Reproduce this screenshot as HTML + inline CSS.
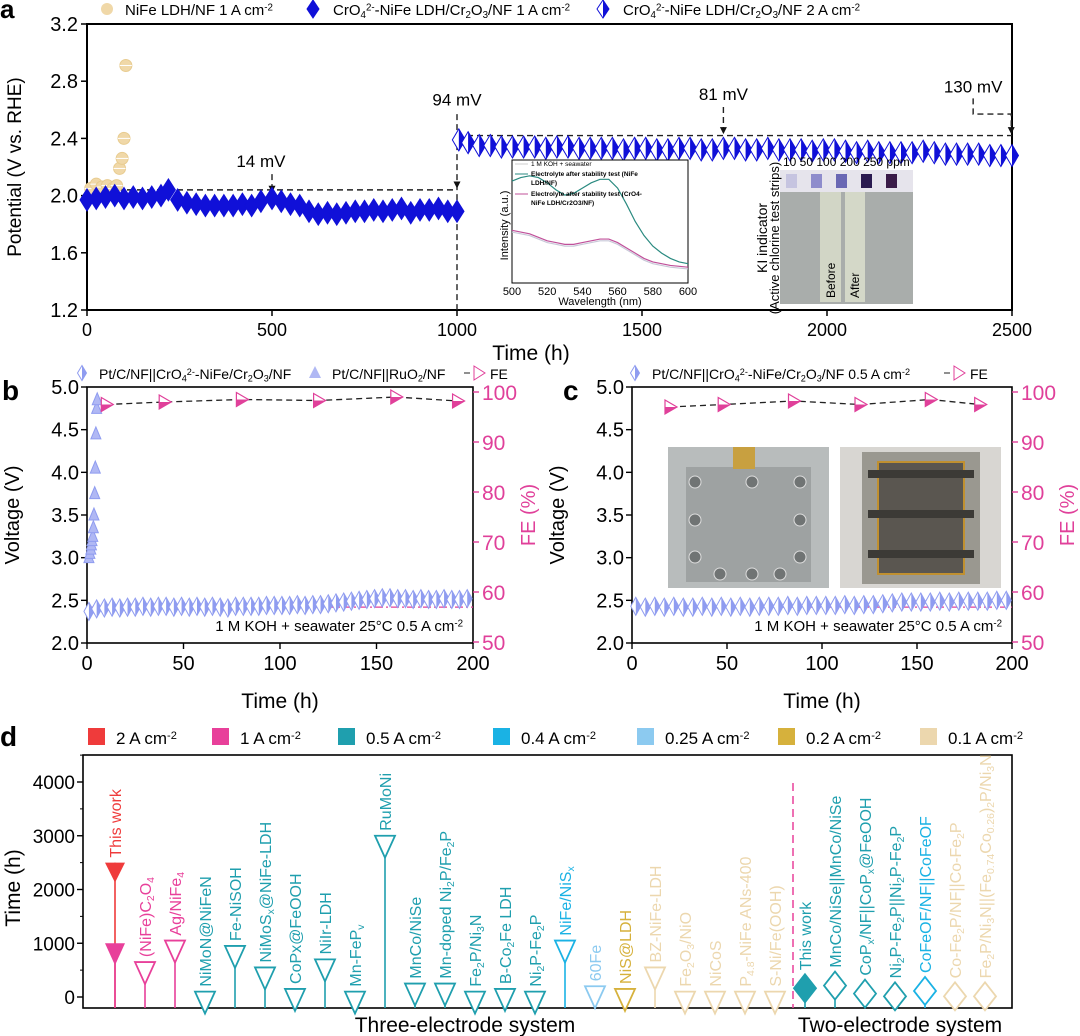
<!DOCTYPE html>
<html><head><meta charset="utf-8">
<style>
html,body{margin:0;padding:0;background:#fff;}
svg{display:block;font-family:"Liberation Sans Narrow","Liberation Sans",sans-serif;}
</style></head>
<body>
<svg id="fig" width="1080" height="1036" viewBox="0 0 1080 1036" xmlns="http://www.w3.org/2000/svg"></svg>
<script>
// ---------- Panel a data ----------
const aNiFeT=[10,25,40,55,70,80,88,95,100,105];
const aNiFeV=[2.05,2.08,2.06,2.07,2.05,2.07,2.19,2.26,2.40,2.91];
const a1T=[0,25,50,75,100,125,150,175,200,220,245,270,295,320,345,370,395,420,445,470,500,525,550,575,600,625,650,675,700,725,750,775,800,825,850,875,900,925,950,975,1000];
const a1V=[1.97,1.98,1.99,2.00,1.98,1.99,1.98,1.99,2.00,2.04,1.97,1.95,1.94,1.93,1.93,1.93,1.93,1.94,1.93,1.96,1.98,1.96,1.94,1.93,1.89,1.87,1.88,1.87,1.88,1.89,1.89,1.90,1.89,1.90,1.91,1.88,1.90,1.90,1.91,1.89,1.89];
const a2T=[1005,1030,1060,1090,1120,1150,1180,1210,1240,1270,1300,1330,1360,1390,1420,1450,1480,1510,1540,1570,1600,1630,1660,1690,1720,1750,1780,1810,1840,1870,1900,1930,1960,1990,2020,2050,2080,2110,2140,2170,2200,2230,2260,2290,2320,2350,2380,2410,2440,2470,2500];
const a2V=[2.39,2.37,2.35,2.35,2.34,2.34,2.34,2.34,2.33,2.34,2.34,2.33,2.33,2.33,2.33,2.32,2.33,2.33,2.32,2.32,2.33,2.33,2.32,2.32,2.33,2.33,2.32,2.32,2.33,2.32,2.32,2.32,2.31,2.32,2.32,2.31,2.30,2.31,2.30,2.30,2.30,2.30,2.31,2.30,2.29,2.29,2.29,2.29,2.28,2.28,2.28];
const aXTicks=[0,500,1000,1500,2000,2500];
const aYTicks=[1.2,1.6,2.0,2.4,2.8,3.2];
// inset spectrum
const specX=[500,505,510,515,520,525,530,535,540,545,550,555,560,565,570,575,580,585,590,595,600];
const specNiFe=[0.78,0.80,0.81,0.80,0.77,0.73,0.70,0.71,0.74,0.77,0.79,0.79,0.74,0.65,0.55,0.47,0.41,0.37,0.34,0.32,0.31];
const specCr=[0.50,0.49,0.48,0.46,0.44,0.43,0.42,0.42,0.43,0.44,0.45,0.45,0.43,0.40,0.37,0.34,0.32,0.31,0.30,0.295,0.29];
const specKOH=[0.49,0.48,0.47,0.45,0.43,0.42,0.41,0.41,0.42,0.43,0.44,0.44,0.42,0.39,0.36,0.33,0.31,0.30,0.29,0.285,0.28];
// ---------- Panel b data ----------
const bDiaT=[1,5,9,13,17,21,25,29,33,37,41,45,49,53,57,61,65,69,73,77,81,85,89,93,97,101,105,109,113,117,121,125,129,133,137,141,145,149,153,157,161,165,169,173,177,181,185,189,193,197];
const bDiaV=[2.37,2.40,2.41,2.42,2.41,2.42,2.42,2.43,2.42,2.43,2.43,2.42,2.43,2.42,2.43,2.42,2.43,2.42,2.41,2.43,2.43,2.43,2.43,2.44,2.44,2.44,2.44,2.45,2.44,2.45,2.45,2.46,2.47,2.48,2.49,2.50,2.51,2.52,2.53,2.53,2.52,2.52,2.51,2.52,2.51,2.51,2.52,2.51,2.51,2.52];
const bRuT=[1,1.5,2,2.3,2.6,3,3.3,3.6,4,4.3,4.6,5,5.3];
const bRuV=[3.00,3.05,3.10,3.15,3.20,3.25,3.35,3.50,3.75,4.05,4.45,4.75,4.85];
const bFeT=[10,40,80,120,160,192];
const bFeV=[97.5,98,98.5,98.3,99,98.2];
const bXTicks=[0,50,100,150,200];
const bYTicks=[2.0,2.5,3.0,3.5,4.0,4.5,5.0];
const feTicks=[50,60,70,80,90,100];
// ---------- Panel c data ----------
const cDiaT=[2,7,12,17,22,27,32,37,42,47,52,57,62,67,72,77,82,87,92,97,102,107,112,117,122,127,132,137,142,147,152,157,162,167,172,177,182,187,192,197];
const cDiaV=[2.43,2.42,2.43,2.42,2.43,2.42,2.42,2.43,2.42,2.43,2.42,2.43,2.42,2.43,2.43,2.43,2.44,2.43,2.44,2.44,2.44,2.44,2.45,2.44,2.45,2.45,2.46,2.47,2.48,2.48,2.48,2.48,2.49,2.48,2.49,2.49,2.49,2.49,2.50,2.50];
const cFeT=[20,48,85,120,157,183];
const cFeV=[97,97.5,98.2,97.5,98.5,97.5];
// ---------- Panel d data ----------
const dLabels=["This work","(NiFe)C_2O_4","Ag/NiFe_4","NiMoN@NiFeN","Fe-NiSOH","NiMoS_x@NiFe-LDH","CoPx@FeOOH","NiIr-LDH","Mn-FeP_v","RuMoNi","MnCo/NiSe","Mn-doped Ni_2P/Fe_2P","Fe_2P/Ni_3N","B-Co_2Fe LDH","Ni_2P-Fe_2P","NiFe/NiS_x","60Fe","NiS@LDH","BZ-NiFe-LDH","Fe_2O_3/NiO","NiCoS","P_{4.8}-NiFe ANs-400","S-Ni/Fe(OOH)","This work","MnCo/NiSe||MnCo/NiSe","CoP_x/NF||CoP_x@FeOOH","Ni_2P-Fe_2P||Ni_2P-Fe_2P","CoFeOF/NF||CoFeOF","Co-Fe_2P/NF||Co-Fe_2P","Fe_2P/Ni_3N||(Fe_{0.74}Co_{0.26})_2P/Ni_3N"];
const dHours=[2500,650,1050,100,950,550,150,700,100,3000,250,250,100,150,100,1050,200,150,550,100,100,100,100,200,250,100,50,150,50,50];
const dCurrent=[2,1,1,0.5,0.5,0.5,0.5,0.5,0.5,0.5,0.5,0.5,0.5,0.5,0.5,0.4,0.25,0.2,0.1,0.1,0.1,0.1,0.1,0.5,0.5,0.5,0.5,0.4,0.1,0.1];
const dYTicks=[0,1000,2000,3000,4000];
const legCurrents=[2,1,0.5,0.4,0.25,0.2,0.1];
const legLabels=["2 A cm","1 A cm","0.5 A cm","0.4 A cm","0.25 A cm","0.2 A cm","0.1 A cm"];

const NS="http://www.w3.org/2000/svg";
const svg=document.getElementById('fig');
function mk(tag,attrs,parent){const e=document.createElementNS(NS,tag);for(const k in attrs)e.setAttribute(k,attrs[k]);(parent||svg).appendChild(e);return e;}
function txt(str,attrs,parent){const t=mk('text',attrs,parent);t.textContent=str;return t;}
function rich(str,attrs,parent){ // _x or _{..} subscript, ^x superscript
  const t=mk('text',attrs,parent);
  const parts=str.split(/([_^](?:\{[^}]*\}|.))/);
  let shift=0;
  parts.forEach(p=>{ if(!p)return;
    if(p[0]==='_'||p[0]==='^'){const s=p.slice(1).replace(/[{}]/g,'');const dy=p[0]==='_'?0.3:-0.45;
      const ts=mk('tspan',{'font-size':'0.65em',dy:(dy-shift)+'em'},t);ts.textContent=s;shift=dy;}
    else {const ts=mk('tspan',{dy:(-shift*0.65)+'em'},t);ts.textContent=p;shift=0;}
  });
  return t;}
const BLUE='#1010d8', PINK='#e0409a', LBLUE='#8f9cf0';
function dia(cx,cy,w,h,color,half,parent){
  const g=mk('g',{},parent);
  mk('polygon',{points:`${cx},${cy-h/2} ${cx+w/2},${cy} ${cx},${cy+h/2} ${cx-w/2},${cy}`,fill:half?'#fff':color,stroke:color,'stroke-width':1},g);
  if(half)mk('polygon',{points:`${cx},${cy-h/2} ${cx+w/2},${cy} ${cx},${cy+h/2}`,fill:color},g);
  return g;}

// ================= PANEL A =================
const A={x0:87,x1:1012,y0:24,y1:310};
const ax=t=>A.x0+t/2500*(A.x1-A.x0);
const ay=v=>A.y0+(3.2-v)/2*(A.y1-A.y0);
const gA=mk('g',{});


txt('a',{x:0,y:18,'font-size':26,'font-weight':'bold','font-family':'Liberation Sans'},gA);
mk('rect',{x:A.x0,y:A.y0,width:A.x1-A.x0,height:A.y1-A.y0,fill:'none',stroke:'#000','stroke-width':2},gA);
aXTicks.forEach(t=>{mk('line',{x1:ax(t),x2:ax(t),y1:A.y1,y2:A.y1+6,stroke:'#000','stroke-width':1.5},gA);
  const l=txt(String(t),{x:ax(t),y:A.y1+26,'text-anchor':'middle','font-size':18},gA);
  
  });
aYTicks.forEach(v=>{mk('line',{x1:A.x0-6,x2:A.x0,y1:ay(v),y2:ay(v),stroke:'#000','stroke-width':1.5},gA);
  const l=txt(v.toFixed(1),{x:A.x0-9,y:ay(v)+7,'text-anchor':'end','font-size':20},gA);
  
  });
const aXT=txt('Time (h)',{x:531,y:360,'text-anchor':'middle','font-size':21},gA);


const aYT=txt('Potential (V vs. RHE)',{x:0,y:0,transform:`translate(21,${(A.y0+A.y1)/2}) rotate(-90)`,'text-anchor':'middle','font-size':19,'font-family':'Liberation Sans'},gA);


// dashed guide lines
const dsh={stroke:'#222','stroke-width':1.4,'stroke-dasharray':'6,4',fill:'none'};
mk('line',Object.assign({x1:ax(0),x2:ax(1000),y1:ay(2.04),y2:ay(2.04)},dsh),gA);
mk('line',Object.assign({x1:ax(1000),x2:ax(1000),y1:ay(2.57),y2:A.y1},dsh),gA);
mk('line',Object.assign({x1:ax(1000),x2:ax(2500),y1:ay(2.42),y2:ay(2.42)},dsh),gA);
mk('line',Object.assign({x1:ax(500),x2:ax(500),y1:ay(2.15),y2:ay(2.02)},dsh),gA);
mk('line',Object.assign({x1:ax(1720),x2:ax(1720),y1:ay(2.62),y2:ay(2.44)},dsh),gA);
mk('polyline',Object.assign({points:`${ax(2395)},${ay(2.68)} ${ax(2395)},${ay(2.57)} ${ax(2498)},${ay(2.57)} ${ax(2498)},${ay(2.44)}`},dsh),gA);
[[500,2.02],[1000,2.05],[1720,2.43],[2498,2.43]].forEach(p=>{const x=ax(p[0]),y=ay(p[1]);mk('polygon',{points:`${x-3.5},${y-7} ${x+3.5},${y-7} ${x},${y}`,fill:'#111'},gA);});
[['14 mV',470,2.2],['94 mV',1000,2.63],['81 mV',1720,2.67],['130 mV',2395,2.72]].forEach(a=>{const l=txt(a[0],{x:ax(a[1]),y:ay(a[2]),'text-anchor':'middle','font-size':17},gA);
  
  });
// series
aNiFeT.forEach((t,i)=>{const g=mk('g',{},gA);
  
  
  mk('circle',{cx:ax(t),cy:ay(aNiFeV[i]),r:6,fill:'#f0d8a8',stroke:'#e8cc90'},g);
  mk('line',{x1:ax(t)-6,x2:ax(t)+6,y1:ay(aNiFeV[i]),y2:ay(aNiFeV[i]),stroke:'#fff','stroke-width':1},g);});
a1T.forEach((t,i)=>{const g=dia(ax(t),ay(a1V[i]),14,22,BLUE,false,gA);
  
  });
a2T.forEach((t,i)=>{const g=dia(ax(t),ay(a2V[i]),13,22,BLUE,true,gA);
  
  });
// legend a
const legA=mk('g',{},gA);


mk('circle',{cx:107,cy:9,r:6,fill:'#f0d8a8'},legA);
rich('NiFe LDH/NF  1 A cm^{-2}',{x:125,y:15,'font-size':15},legA);
dia(313,9,12,18,BLUE,false,legA);
rich('CrO_4^{2-}-NiFe LDH/Cr_2O_3/NF 1 A cm^{-2}',{x:333,y:15,'font-size':15},legA);
dia(603,9,12,18,BLUE,true,legA);
rich('CrO_4^{2-}-NiFe LDH/Cr_2O_3/NF 2 A cm^{-2}',{x:623,y:15,'font-size':15},legA);
// inset spectrum
const I={x0:512,x1:688,y0:160,y1:283};
const ix=w=>I.x0+(w-500)/100*(I.x1-I.x0);
const iy=v=>I.y1-(v-0.2)/0.7*(I.y1-I.y0);
const gI=mk('g',{},gA);


mk('rect',{x:I.x0,y:I.y0,width:I.x1-I.x0,height:I.y1-I.y0,fill:'#fff',stroke:'#000','stroke-width':1},gI);
[500,520,540,560,580,600].forEach(w=>{txt(String(w),{x:ix(w),y:I.y1+12,'text-anchor':'middle','font-size':11,'font-family':'Liberation Sans'},gI);});
txt('Wavelength (nm)',{x:(I.x0+I.x1)/2,y:I.y1+22,'text-anchor':'middle','font-size':11,'font-family':'Liberation Sans'},gI);
txt('Intensity (a.u.)',{x:0,y:0,transform:`translate(508,${(I.y0+I.y1)/2+4}) rotate(-90)`,'text-anchor':'middle','font-size':11,'font-family':'Liberation Sans'},gI);
function spec(arr,col,nm){const p=mk('polyline',{points:specX.map((w,i)=>`${ix(w)},${iy(arr[i])}`).join(' '),fill:'none',stroke:col,'stroke-width':1.2},gI);
  
  }
spec(specKOH,'#c8c8d8','spectrum-koh-seawater');spec(specNiFe,'#2a8a80','spectrum-nife');spec(specCr,'#c0509a','spectrum-cro4');
mk('line',{x1:515,x2:528,y1:164,y2:164,stroke:'#ccc'},gI);txt('1 M KOH + seawater',{x:531,y:166,'font-size':6.5,'font-family':'Liberation Sans'},gI);
mk('line',{x1:515,x2:528,y1:174,y2:174,stroke:'#2a8a80'},gI);txt('Electrolyte after stability test (NiFe',{x:531,y:176,'font-size':6.5,'font-weight':'bold','font-family':'Liberation Sans'},gI);txt('LDH/NF)',{x:531,y:185,'font-size':6.5,'font-weight':'bold','font-family':'Liberation Sans'},gI);
mk('line',{x1:515,x2:528,y1:194,y2:194,stroke:'#c0509a'},gI);txt('Electrolyte after stability test (CrO4-',{x:531,y:196,'font-size':6.5,'font-weight':'bold','font-family':'Liberation Sans'},gI);txt('NiFe LDH/Cr2O3/NF)',{x:531,y:205,'font-size':6.5,'font-weight':'bold','font-family':'Liberation Sans'},gI);
// KI photo inset
const gK=mk('g',{},gA);


mk('rect',{x:780,y:170,width:133,height:134,fill:'#a9adab'},gK);
mk('rect',{x:780,y:170,width:133,height:22,fill:'#e6e4ec'},gK);
['#c6c4e0','#8e8ccc','#6a68b4','#2a1a50','#3a1c48'].forEach((c,i)=>mk('rect',{x:786+i*25,y:174,width:11,height:14,fill:c},gK));
mk('rect',{x:820,y:192,width:21,height:110,fill:'#d2d6c6'},gK);
mk('rect',{x:845,y:192,width:20,height:110,fill:'#d4d8c8'},gK);
txt('10  50 100 200 250 ppm',{x:783,y:166,'font-size':12,'font-family':'Liberation Sans'},gK);
txt('Before',{x:0,y:0,transform:'translate(835,298) rotate(-90)','font-size':12,'font-family':'Liberation Sans'},gK);
txt('After',{x:0,y:0,transform:'translate(859,298) rotate(-90)','font-size':12,'font-family':'Liberation Sans'},gK);
txt('KI indicator',{x:0,y:0,transform:'translate(767,238) rotate(-90)','text-anchor':'middle','font-size':14,'font-family':'Liberation Sans'},gK);
txt('(Active chlorine test strips)',{x:0,y:0,transform:'translate(779,238) rotate(-90)','text-anchor':'middle','font-size':13,'font-family':'Liberation Sans'},gK);

// ================= PANELS B & C =================
function volPanel(name,letter,X0,X1,diaT,diaV,feT,feV,ru,legendItems,photos){
  const Y0=387,Y1=643;
  const px=t=>X0+t/200*(X1-X0);
  const py=v=>Y0+(5-v)/3*(Y1-Y0);
  const pf=f=>392+(100-f)/50*250;
  const g=mk('g',{});
  
  
  txt(letter,{x:X0-85+(letter==='c'?16:0),y:400,'font-size':28,'font-weight':'bold','font-family':'Liberation Sans'},g);
  mk('rect',{x:X0,y:Y0,width:X1-X0,height:Y1-Y0,fill:'none',stroke:'#000','stroke-width':1.6},g);
  bXTicks.forEach(t=>{mk('line',{x1:px(t),x2:px(t),y1:Y1,y2:Y1+6,stroke:'#000','stroke-width':1.4},g);
    const l=txt(String(t),{x:px(t),y:Y1+27,'text-anchor':'middle','font-size':20},g);
    
    });
  bYTicks.forEach(v=>{mk('line',{x1:X0-6,x2:X0,y1:py(v),y2:py(v),stroke:'#000','stroke-width':1.4},g);
    const l=txt(v.toFixed(1),{x:X0-8,y:py(v)+7,'text-anchor':'end','font-size':20},g);
    
    });
  feTicks.forEach(f=>{mk('line',{x1:X1,x2:X1+6,y1:pf(f),y2:pf(f),stroke:PINK,'stroke-width':1.4},g);
    const l=txt(String(f),{x:X1+9,y:pf(f)+8,'font-size':21,fill:PINK},g);
    
    });
  const xt=txt('Time (h)',{x:(X0+X1)/2,y:708,'text-anchor':'middle','font-size':21},g);
  
  
  const yt=txt('Voltage (V)',{x:0,y:0,transform:`translate(${X0-68},515) rotate(-90)`,'text-anchor':'middle','font-size':20,'font-family':'Liberation Sans'},g);
  
  
  const ft=txt('FE (%)',{x:0,y:0,transform:`translate(${X1+62},515) rotate(-90)`,'text-anchor':'middle','font-size':20,fill:PINK,'font-family':'Liberation Sans'},g);
  
  
  if(photos){
    const p1=mk('g',{},g);
    
    
    mk('rect',{x:668,y:447,width:161,height:141,fill:'#b8bcbc'},p1);
    mk('rect',{x:686,y:467,width:125,height:115,fill:'#9ea2a2'},p1);
    mk('rect',{x:733,y:447,width:22,height:22,fill:'#c8a040'},p1);
    [[695,482],[752,482],[800,482],[695,520],[800,520],[695,557],[752,574],[800,557],[720,574],[780,574]].forEach(c=>mk('circle',{cx:c[0],cy:c[1],r:6,fill:'#707474',stroke:'#ddd'},p1));
    const p2=mk('g',{},g);
    
    
    mk('rect',{x:840,y:447,width:161,height:141,fill:'#d8d6d2'},p2);
    mk('rect',{x:862,y:452,width:118,height:132,fill:'#9a9890'},p2);
    mk('rect',{x:878,y:462,width:86,height:112,fill:'#5a5650',stroke:'#c09030','stroke-width':2},p2);
    [470,510,550].forEach(y=>mk('rect',{x:868,y:y,width:106,height:8,fill:'#3c3a36'},p2));
  }
  mk('line',{x1:X0,x2:X1,y1:py(2.42),y2:py(2.42),stroke:PINK,'stroke-width':1.2,'stroke-dasharray':'8,3,2,3'},g);
  diaT.forEach((t,i)=>{const d=dia(px(t),py(diaV[i]),10,18,LBLUE,true,g);
    
    });
  if(ru){ru[0].forEach((t,i)=>{const x=px(t),y=py(ru[1][i]);
    const tr=mk('polygon',{points:`${x},${y-7} ${x+5},${y+5} ${x-5},${y+5}`,fill:'#b0b8f4',stroke:'#8f9cf0'},g);
    
    });}
  mk('polyline',{points:feT.map((t,i)=>`${px(t)},${pf(feV[i])}`).join(' '),fill:'none',stroke:'#222','stroke-width':1.3,'stroke-dasharray':'6,4'},g);
  feT.forEach((t,i)=>{const x=px(t),y=pf(feV[i]);
    const fg=mk('g',{},g);
    
    
    mk('polygon',{points:`${x-5},${y-7} ${x+7},${y} ${x-5},${y+7}`,fill:'#fff',stroke:PINK,'stroke-width':1.2},fg);
    mk('polygon',{points:`${x-5},${y} ${x+7},${y} ${x-5},${y+7}`,fill:PINK},fg);});
  rich('1 M KOH + seawater 25°C 0.5 A cm^{-2}',{x:X1-10,y:Y1-12,'text-anchor':'end','font-size':15},g);
  const lg=mk('g',{},g);
  
  
  legendItems(lg);
  return g;
}
volPanel('panel-b','b',87,473,bDiaT,bDiaV,bFeT,bFeV,[bRuT,bRuV],lg=>{
  dia(82,373,9,15,LBLUE,true,lg);
  rich('Pt/C/NF||CrO_4^{2-}-NiFe/Cr_2O_3/NF',{x:99,y:379,'font-size':14},lg);
  mk('polygon',{points:'315,366 321,378 309,378',fill:'#b0b8f4'},lg);
  rich('Pt/C/NF||RuO_2/NF',{x:332,y:379,'font-size':14},lg);
  mk('line',{x1:464,x2:470,y1:373,y2:373,stroke:'#222'},lg);
  mk('polygon',{points:'474,366 485,373 474,380',fill:'#fff',stroke:PINK},lg);
  txt('FE',{x:490,y:379,'font-size':14},lg);
},false);
volPanel('panel-c','c',632,1012,cDiaT,cDiaV,cFeT,cFeV,null,lg=>{
  dia(635,373,9,15,LBLUE,true,lg);
  rich('Pt/C/NF||CrO_4^{2-}-NiFe/Cr_2O_3/NF 0.5 A cm^{-2}',{x:652,y:379,'font-size':14},lg);
  mk('line',{x1:944,x2:950,y1:373,y2:373,stroke:'#222'},lg);
  mk('polygon',{points:'954,366 965,373 954,380',fill:'#fff',stroke:PINK},lg);
  txt('FE',{x:970,y:379,'font-size':14},lg);
},true);

// ================= PANEL D =================
const colorOf=c=>({2:'#ef3b3b',1:'#e8409a',0.5:'#1f9fae',0.4:'#1ab2e4',0.25:'#8ccaf0',0.2:'#d6b13c',0.1:'#ecd7ae'})[c];
const D={x0:83,x1:1012,y0:755,y1:1008};
const dx=i=>115+i*30;
const dy=h=>997-h/1000*53.75;
const gD=mk('g',{});


txt('d',{x:0,y:746,'font-size':28,'font-weight':'bold','font-family':'Liberation Sans'},gD);
mk('rect',{x:D.x0,y:D.y0,width:D.x1-D.x0,height:D.y1-D.y0,fill:'none',stroke:'#000','stroke-width':1.6},gD);
dYTicks.forEach(v=>{mk('line',{x1:D.x0-6,x2:D.x0,y1:dy(v),y2:dy(v),stroke:'#000','stroke-width':1.4},gD);
  mk('line',{x1:D.x0-3,x2:D.x0,y1:dy(v+500),y2:dy(v+500),stroke:'#000'},gD);
  const l=txt(String(v),{x:D.x0-8,y:dy(v)+7,'text-anchor':'end','font-size':19},gD);
  
  });
const dYT=txt('Time (h)',{x:0,y:0,transform:'translate(20,888) rotate(-90)','text-anchor':'middle','font-size':21,'font-family':'Liberation Sans'},gD);


txt('Three-electrode system',{x:465,y:1032,'text-anchor':'middle','font-size':21},gD);
txt('Two-electrode system',{x:900,y:1032,'text-anchor':'middle','font-size':21},gD);
mk('line',{x1:793,x2:793,y1:783,y2:D.y1,stroke:'#e8409a','stroke-width':1.5,'stroke-dasharray':'8,5'},gD);
// legend d
const legD=mk('g',{},gD);


const legX=[88,212,338,493,637,778,920];
legCurrents.forEach((c,i)=>{mk('rect',{x:legX[i],y:728,width:17,height:17,fill:colorOf(c)},legD);
  rich(legLabels[i]+'^{-2}',{x:legX[i]+28,y:744,'font-size':17},legD);});
// stems & markers
dHours.forEach((h,i)=>{
  const col=colorOf(dCurrent[i]);const x=dx(i);const y=dy(h);
  const g=mk('g',{},gD);
  
  
  mk('line',{x1:x,x2:x,y1:y,y2:D.y1,stroke:col,'stroke-width':1.6},g);
  const two=i>=23;
  if(two){mk('polygon',{points:`${x},${y-12} ${x+11},${y+2} ${x},${y+16} ${x-11},${y+2}`,fill:i===23?col:'#fff',stroke:col,'stroke-width':1.8},g);}
  else if(i===0){mk('polygon',{points:`${x-10},${y} ${x+10},${y} ${x},${y+20}`,fill:col},g);
    const y1=dy(1000);mk('line',{x1:x,x2:x,y1:y1,y2:D.y1,stroke:colorOf(1),'stroke-width':1.6},g);
    mk('polygon',{points:`${x-10},${y1} ${x+10},${y1} ${x},${y1+22}`,fill:colorOf(1)},g);}
  else {mk('polygon',{points:`${x-10},${y} ${x+10},${y} ${x},${y+22}`,fill:'#fff',stroke:col,'stroke-width':1.8},g);}
  const ly=two?y-16:y-5;
  const l=rich(dLabels[i],{x:0,y:0,transform:`translate(${x+6},${ly}) rotate(-90)`,'font-size':16,fill:col,'font-family':'Liberation Sans'},g);
  
  
});
</script>
</body></html>
